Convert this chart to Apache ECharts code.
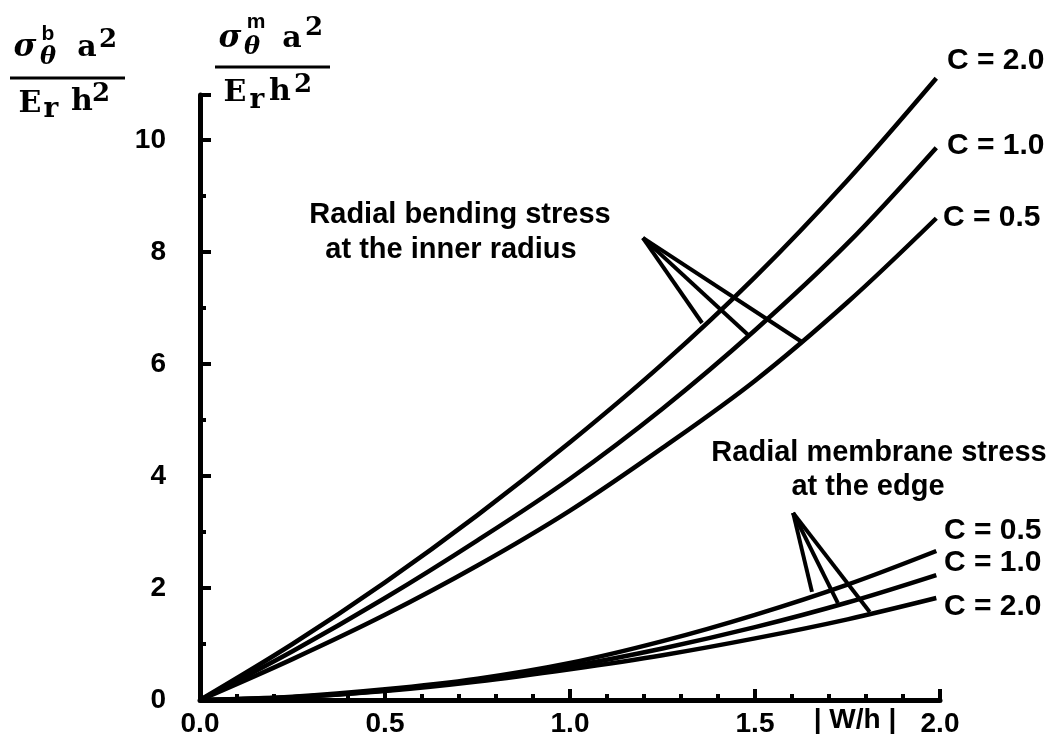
<!DOCTYPE html>
<html><head><meta charset="utf-8">
<script src="https://cdn.jsdelivr.net/npm/echarts@6/dist/echarts.min.js"></script>
<style>html,body{margin:0;padding:0;background:#fff}#c{width:1056px;height:746px}</style>
</head><body><div id="c"></div>
<script>
// ---- data ----
const xValues = [0, 0.25, 0.5, 0.75, 1.0, 1.25, 1.5, 1.75, 1.99];
// radial bending stress at the inner radius
const bendC20 = [0, 1.0, 2.1, 3.3, 4.6, 6.0, 7.55, 9.28, 11.1];
const bendC10 = [0, 0.87, 1.82, 2.85, 3.95, 5.2, 6.6, 8.15, 9.86];
const bendC05 = [0, 0.73, 1.52, 2.4, 3.38, 4.5, 5.7, 7.1, 8.6];
// radial membrane stress at the edge
const membC05 = [0, 0.06, 0.19, 0.38, 0.66, 1.05, 1.52, 2.06, 2.66];
const membC10 = [0, 0.05, 0.17, 0.35, 0.6, 0.92, 1.3, 1.74, 2.23];
const membC20 = [0, 0.05, 0.16, 0.33, 0.55, 0.8, 1.1, 1.44, 1.82];
// annotation leader lines (data coordinates)
const bendPointerApex = [1.197, 8.25];
const bendPointerEnds = [[1.357, 6.73], [1.481, 6.52], [1.627, 6.39]];
const membPointerApex = [1.603, 3.34];
const membPointerEnds = [[1.654, 1.93], [1.724, 1.73], [1.81, 1.57]];
const xTicks = [0, 0.5, 1.0, 1.5, 2.0];
const yTicks = [0, 2, 4, 6, 8, 10];

const chart = echarts.init(document.getElementById('c'), null, {renderer: 'canvas'});
const pairs = ys => xValues.map((x, i) => [x, ys[i]]);
const SANS = '"Liberation Sans", Arial, sans-serif';
const SERIF = '"DejaVu Serif", serif';

function curve(name, ys) {
  return {name, type: 'line', data: pairs(ys), smooth: 0.35, symbol: 'none', clip: false,
    lineStyle: {color: '#000', width: 4.5}, silent: true};
}
function leg(apex, end) {
  return {type: 'line', data: [apex, end], symbol: 'none', clip: false,
    lineStyle: {color: '#000', width: 4}, silent: true};
}
const series = [
  curve('bend C=2.0', bendC20), curve('bend C=1.0', bendC10), curve('bend C=0.5', bendC05),
  curve('memb C=0.5', membC05), curve('memb C=1.0', membC10), curve('memb C=2.0', membC20)
];
bendPointerEnds.forEach(e => series.push(leg(bendPointerApex, e)));
membPointerEnds.forEach(e => series.push(leg(membPointerApex, e)));

function t(text, x, y, font, align) {
  return {type: 'text', x, y, style: {text, font, fill: '#000', align: align || 'center', verticalAlign: 'middle'}, silent: true};
}
function bar(x1, x2, y) {
  return {type: 'line', shape: {x1, y1: y, x2, y2: y}, style: {stroke: '#000', lineWidth: 3}, silent: true};
}
const cFont = 'bold 30px ' + SANS;
const noteFont = 'bold 29px ' + SANS;
const graphic = [
  // left fraction
  t('σ', 25, 48, 'bold italic 31px ' + SERIF),
  t('b', 48, 34, 'bold 21px ' + SANS),
  t('θ', 48, 58, 'bold italic 24px ' + SERIF),
  t('a', 87, 48, 'bold 30px ' + SERIF),
  t('2', 108, 40, 'bold 26px ' + SERIF),
  bar(10, 125, 78),
  t('E', 30, 104, 'bold 30px ' + SERIF),
  t('r', 51, 110, 'bold 28px ' + SERIF),
  t('h', 82, 102, 'bold 30px ' + SERIF),
  t('2', 101, 94, 'bold 26px ' + SERIF),
  // right fraction
  t('σ', 230, 39, 'bold italic 31px ' + SERIF),
  t('m', 256, 22, 'bold 21px ' + SANS),
  t('θ', 252, 48, 'bold italic 24px ' + SERIF),
  t('a', 292, 39, 'bold 30px ' + SERIF),
  t('2', 314, 28, 'bold 26px ' + SERIF),
  bar(215, 330, 67),
  t('E', 235, 93, 'bold 30px ' + SERIF),
  t('r', 257, 101, 'bold 28px ' + SERIF),
  t('h', 280, 92, 'bold 30px ' + SERIF),
  t('2', 303, 85, 'bold 26px ' + SERIF),
  // annotations
  t('Radial bending stress', 460, 215, noteFont),
  t('at the inner radius', 451, 250, noteFont),
  t('Radial membrane stress', 879, 453, noteFont),
  t('at the edge', 868, 487, noteFont),
  t('C = 2.0', 947, 61, cFont, 'left'),
  t('C = 1.0', 947, 146, cFont, 'left'),
  t('C = 0.5', 943, 218, cFont, 'left'),
  t('C = 0.5', 944, 531, cFont, 'left'),
  t('C = 1.0', 944, 563, cFont, 'left'),
  t('C = 2.0', 944, 607, cFont, 'left'),
  t('| W/h |', 855, 720, 'bold 28px ' + SANS)
];

chart.setOption({
  animation: false,
  backgroundColor: '#fff',
  grid: {left: 200, right: 116, top: 95, bottom: 46},
  xAxis: {
    type: 'value', min: 0, max: 2, interval: 0.5,
    axisLine: {show: true, onZero: false, lineStyle: {color: '#000', width: 5}},
    axisTick: {show: true, inside: true, length: 11, lineStyle: {color: '#000', width: 4}},
    minorTick: {show: true, splitNumber: 5, length: 6, lineStyle: {color: '#000', width: 4}},
    splitLine: {show: false},
    axisLabel: {color: '#000', fontWeight: 'bold', fontSize: 28, fontFamily: SANS, margin: 10,
      formatter: v => xTicks.includes(+v.toFixed(2)) ? v.toFixed(1) : ''}
  },
  yAxis: {
    type: 'value', min: 0, max: 10.8, interval: 2,
    axisLine: {show: true, onZero: false, lineStyle: {color: '#000', width: 5}},
    axisTick: {show: true, inside: true, length: 11, lineStyle: {color: '#000', width: 4}},
    minorTick: {show: true, splitNumber: 2, length: 6, lineStyle: {color: '#000', width: 4}},
    splitLine: {show: false},
    axisLabel: {color: '#000', fontWeight: 'bold', fontSize: 28, fontFamily: SANS, margin: 34,
      showMaxLabel: false,
      formatter: v => yTicks.includes(Math.round(v)) && Math.abs(v - Math.round(v)) < 1e-6 ? String(Math.round(v)) : ''}
  },
  series,
  graphic
});
</script>
</body></html>
